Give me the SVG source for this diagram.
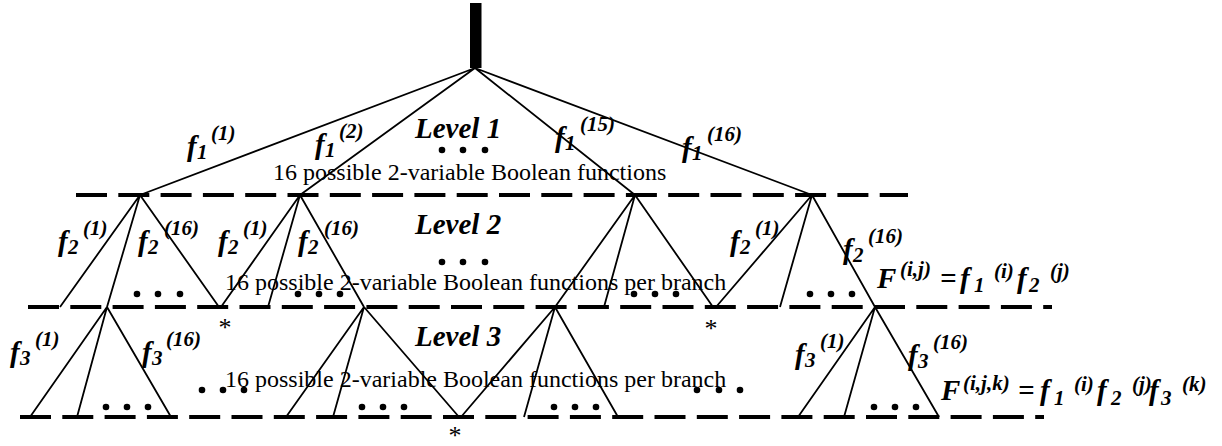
<svg xmlns="http://www.w3.org/2000/svg" width="1222" height="446" viewBox="0 0 1222 446">
<style>
.lvl{fill:none;stroke:#000;stroke-width:4;stroke-dasharray:31 11.3}
.c{stroke:#000;stroke-width:1.8;fill:none}
.f{font-family:'Liberation Serif','Times New Roman',Times,'DejaVu Serif',serif;font-style:italic;font-weight:bold;font-size:29px;fill:#000}
.s{font-size:21px}
.t{font-family:'Liberation Serif','Times New Roman',Times,'DejaVu Serif',serif;font-size:24px;fill:#000}
.lv{font-family:'Liberation Serif','Times New Roman',Times,'DejaVu Serif',serif;font-style:italic;font-weight:bold;font-size:29px;fill:#000}
.ast{font-family:'Liberation Serif','Times New Roman',Times,'DejaVu Serif',serif;font-size:26px;fill:#000;text-anchor:middle}
.d{fill:#000}
</style>
<rect id="root" x="470" y="3" width="11.5" height="65" fill="#000"/>
<g id="levels">
<line class="lvl" x1="76" y1="195" x2="908" y2="195"/>
<line class="lvl" x1="28" y1="307" x2="1052" y2="307"/>
<line class="lvl" x1="20" y1="417" x2="1044" y2="417"/>
</g>
<g id="connectors">
<path class="c" d="M475 68L140 195M475 68L300 195M475 68L635 195M475 68L812 195"/>
<path class="c" d="M140 195L60 307M140 195L107 307M140 195L219 307"/>
<path class="c" d="M300 195L221 307M300 195L268 307M300 195L364 307"/>
<path class="c" d="M635 195L555 307M635 195L604 307M635 195L713 307"/>
<path class="c" d="M812 195L716 307M812 195L780 307M812 195L875 307"/>
<path class="c" d="M107 307L30 417M107 307L77 417M107 307L171 417"/>
<path class="c" d="M364 307L286 417M364 307L333 417M364 307L459 417"/>
<path class="c" d="M555 307L461 417M555 307L524 417M555 307L618 417"/>
<path class="c" d="M875 307L798 417M875 307L844 417M875 307L939 417"/>
</g>
<g id="dots">
<circle class="d" cx="442" cy="150" r="3.3"/><circle class="d" cx="463" cy="150" r="3.3"/><circle class="d" cx="485" cy="150" r="3.3"/>
<circle class="d" cx="442" cy="262" r="3.3"/><circle class="d" cx="463" cy="262" r="3.3"/><circle class="d" cx="485" cy="262" r="3.3"/>
<circle class="d" cx="137" cy="294" r="3.3"/><circle class="d" cx="158" cy="294" r="3.3"/><circle class="d" cx="180" cy="294" r="3.3"/>
<circle class="d" cx="298" cy="294" r="3.3"/><circle class="d" cx="319" cy="294" r="3.3"/><circle class="d" cx="340" cy="294" r="3.3"/>
<circle class="d" cx="634" cy="294" r="3.3"/><circle class="d" cx="655" cy="294" r="3.3"/><circle class="d" cx="676" cy="294" r="3.3"/>
<circle class="d" cx="810" cy="294" r="3.3"/><circle class="d" cx="831" cy="294" r="3.3"/><circle class="d" cx="852" cy="294" r="3.3"/>
<circle class="d" cx="106" cy="407" r="3.3"/><circle class="d" cx="127" cy="407" r="3.3"/><circle class="d" cx="148" cy="407" r="3.3"/>
<circle class="d" cx="202" cy="390" r="3.3"/><circle class="d" cx="223" cy="390" r="3.3"/><circle class="d" cx="244" cy="390" r="3.3"/>
<circle class="d" cx="362" cy="407" r="3.3"/><circle class="d" cx="383" cy="407" r="3.3"/><circle class="d" cx="404" cy="407" r="3.3"/>
<circle class="d" cx="554" cy="407" r="3.3"/><circle class="d" cx="575" cy="407" r="3.3"/><circle class="d" cx="596" cy="407" r="3.3"/>
<circle class="d" cx="697" cy="390" r="3.3"/><circle class="d" cx="719" cy="390" r="3.3"/><circle class="d" cx="740" cy="390" r="3.3"/>
<circle class="d" cx="874" cy="407" r="3.3"/><circle class="d" cx="895" cy="407" r="3.3"/><circle class="d" cx="916" cy="407" r="3.3"/>
</g>
<g id="level-texts">
<text class="lv" x="415" y="138">Level 1</text>
<text class="lv" x="415" y="234">Level 2</text>
<text class="lv" x="415" y="346">Level 3</text>
<text class="t" x="273" y="180">16 possible 2-variable Boolean functions</text>
<text class="t" x="225" y="290">16 possible 2-variable Boolean functions per branch</text>
<text class="t" x="225" y="387">16 possible 2-variable Boolean functions per branch</text>
</g>
<g id="asterisks">
<text class="ast" x="225" y="336">*</text>
<text class="ast" x="711" y="337">*</text>
<text class="ast" x="455" y="444">*</text>
</g>
<g id="labels">
<text class="f" x="187" y="156">f<tspan class="s" x="197" y="159">1</tspan><tspan class="s" x="211" y="140">(1)</tspan></text>
<text class="f" x="315" y="154">f<tspan class="s" x="325" y="157">1</tspan><tspan class="s" x="339" y="138">(2)</tspan></text>
<text class="f" x="555" y="147">f<tspan class="s" x="565" y="150">1</tspan><tspan class="s" x="580" y="131">(15)</tspan></text>
<text class="f" x="682" y="157">f<tspan class="s" x="692" y="160">1</tspan><tspan class="s" x="707" y="141">(16)</tspan></text>
<text class="f" x="58" y="251">f<tspan class="s" x="68" y="254">2</tspan><tspan class="s" x="83" y="235">(1)</tspan></text>
<text class="f" x="138" y="251">f<tspan class="s" x="148" y="254">2</tspan><tspan class="s" x="164" y="235">(16)</tspan></text>
<text class="f" x="218" y="251">f<tspan class="s" x="228" y="254">2</tspan><tspan class="s" x="243" y="235">(1)</tspan></text>
<text class="f" x="298" y="251">f<tspan class="s" x="308" y="254">2</tspan><tspan class="s" x="324" y="235">(16)</tspan></text>
<text class="f" x="730" y="251">f<tspan class="s" x="740" y="254">2</tspan><tspan class="s" x="755" y="235">(1)</tspan></text>
<text class="f" x="843" y="259">f<tspan class="s" x="853" y="262">2</tspan><tspan class="s" x="868" y="243">(16)</tspan></text>
<text class="f" x="10" y="362">f<tspan class="s" x="20" y="365">3</tspan><tspan class="s" x="35" y="346">(1)</tspan></text>
<text class="f" x="142" y="362">f<tspan class="s" x="152" y="365">3</tspan><tspan class="s" x="166" y="346">(16)</tspan></text>
<text class="f" x="795" y="364">f<tspan class="s" x="805" y="367">3</tspan><tspan class="s" x="820" y="348">(1)</tspan></text>
<text class="f" x="908" y="365">f<tspan class="s" x="918" y="368">3</tspan><tspan class="s" x="933" y="349">(16)</tspan></text>
</g>
<g id="formulas">
<text class="f" x="877" y="288">F<tspan class="s" x="900" y="276">(i,j)</tspan><tspan x="940" y="288">=</tspan><tspan x="960" y="288">f</tspan><tspan class="s" x="974" y="292">1</tspan><tspan class="s" x="994" y="278">(i)</tspan><tspan x="1017" y="288">f</tspan><tspan class="s" x="1029" y="292">2</tspan><tspan class="s" x="1050" y="278">(j)</tspan></text>
<text class="f" x="941" y="400">F<tspan class="s" x="963" y="390">(i,j,k)</tspan><tspan x="1018" y="400">=</tspan><tspan x="1040" y="400">f</tspan><tspan class="s" x="1054" y="405">1</tspan><tspan class="s" x="1074" y="391">(i)</tspan><tspan x="1097" y="400">f</tspan><tspan class="s" x="1111" y="405">2</tspan><tspan class="s" x="1132" y="391">(j)</tspan><tspan x="1149" y="400">f</tspan><tspan class="s" x="1161" y="405">3</tspan><tspan class="s" x="1182" y="391">(k)</tspan></text>
</g>
</svg>
